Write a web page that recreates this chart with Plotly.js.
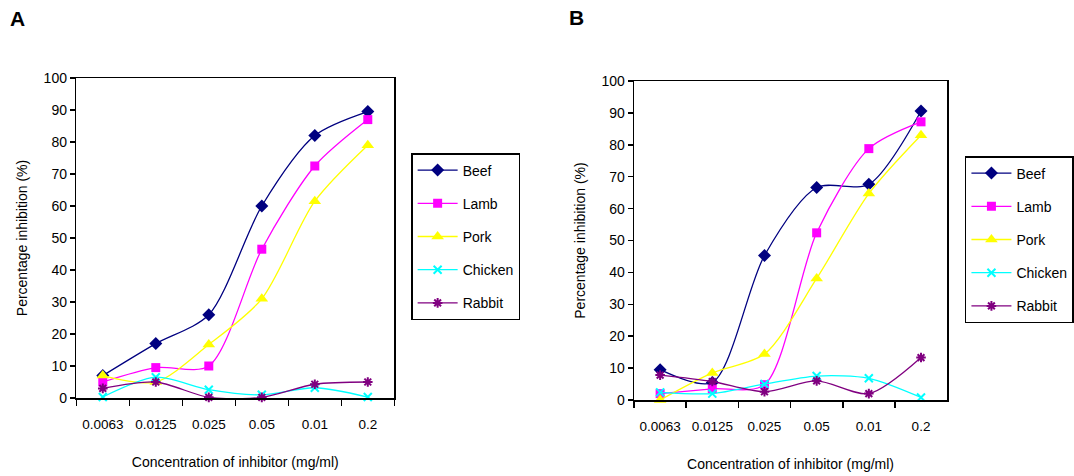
<!DOCTYPE html>
<html>
<head>
<meta charset="utf-8">
<script src="https://cdn.plot.ly/plotly-3.0.1.min.js"></script>
<style>
  html, body { margin: 0; padding: 0; background: #ffffff; }
  #chart { width: 1074px; height: 476px; }
</style>
</head>
<body>
<div id="chart"></div>
<script>
// Categories (x tick labels)
const concentrations = ["0.0063", "0.0125", "0.025", "0.05", "0.01", "0.2"];
const seriesNames = ["Beef", "Lamb", "Pork", "Chicken", "Rabbit"];

// Panel A values (% inhibition)
const beefA    = [7, 17, 26, 60, 82, 89.5];
const lambA    = [5, 9.5, 10, 46.5, 72.5, 87];
const porkA    = [7, 5, 16.7, 31, 61.5, 79];
const chickenA = [0.3, 6.5, 2.6, 1, 3.2, 0.3];
const rabbitA  = [3, 5, 0.2, 0.2, 4.3, 5];

// Panel B values (% inhibition)
const beefB    = [9.5, 5.5, 45.3, 66.6, 67.6, 90.6];
const lambB    = [2, 3.5, 4.8, 52.4, 78.8, 87.2];
const porkB    = [0, 8.5, 14.4, 38.1, 64.7, 83];
const chickenB = [2.4, 2, 5, 7.5, 6.8, 0.8];
const rabbitB  = [7.8, 5.8, 2.6, 6, 2, 13.3];

const styles = [
  { color: "#000080", symbol: "diamond", size: 10, open: false },
  { color: "#FF00FF", symbol: "square", size: 9, open: false },
  { color: "#FFFF00", symbol: "triangle-up", size: 11, open: false },
  { color: "#00FFFF", symbol: "x-thin-open", size: 8, open: true },
  { color: "#800080", symbol: "asterisk-open", size: 8, open: true }
];

function makeTraces(valuesList, xa, ya, legendId, suffix) {
  return valuesList.map((vals, i) => {
    const st = styles[i];
    return {
      type: "scatter",
      mode: "lines+markers",
      name: seriesNames[i],
      x: concentrations,
      y: vals,
      xaxis: xa,
      yaxis: ya,
      legend: legendId,
      legendgroup: seriesNames[i] + suffix,
      line: { color: st.color, width: 1.3, shape: "spline", smoothing: 0.8 },
      marker: {
        color: st.color,
        symbol: st.symbol,
        size: st.size,
        line: { color: st.color, width: st.open ? 2 : 0 }
      },
      cliponaxis: false
    };
  });
}

const traces = []
  .concat(makeTraces([beefA, lambA, porkA, chickenA, rabbitA], "x", "y", "legend", "A"))
  .concat(makeTraces([beefB, lambB, porkB, chickenB, rabbitB], "x2", "y2", "legend2", "B"));

const fontFam = "Liberation Sans, Arial, sans-serif";

function xAxis(domain, anchor) {
  return {
    domain: domain,
    anchor: anchor,
    type: "category",
    categoryorder: "array",
    categoryarray: concentrations,
    range: [-0.5, 5.5],
    tickson: "boundaries",
    tickangle: 0,
    ticks: "outside",
    ticklen: 6,
    tickwidth: 1.5,
    tickcolor: "#000",
    ticklabelstandoff: 13,
    showline: true,
    linecolor: "#000",
    linewidth: 1.5,
    mirror: true,
    showgrid: false,
    zeroline: false,
    tickfont: { family: fontFam, size: 13.5, color: "#000" },
    title: {
      text: "Concentration of inhibitor (mg/ml)",
      font: { family: fontFam, size: 14, color: "#000" },
      standoff: 26
    }
  };
}

function yAxis(domain, anchor) {
  return {
    domain: domain,
    anchor: anchor,
    range: [0, 100],
    dtick: 10,
    ticks: "outside",
    ticklen: 5,
    tickwidth: 1.5,
    tickcolor: "#000",
    showline: true,
    linecolor: "#000",
    linewidth: 1.5,
    mirror: true,
    showgrid: false,
    zeroline: false,
    tickfont: { family: fontFam, size: 14, color: "#000" },
    title: {
      text: "Percentage inhibition (%)",
      font: { family: fontFam, size: 14, color: "#000" },
      standoff: 12
    }
  };
}

function legendCfg(x, y) {
  return {
    x: x, y: y,
    xanchor: "left", yanchor: "top",
    xref: "paper", yref: "paper",
    bgcolor: "#ffffff",
    bordercolor: "#000",
    borderwidth: 1.5,
    font: { family: fontFam, size: 14, color: "#000" },
    tracegroupgap: 12,
    itemwidth: 40
  };
}

const layout = {
  width: 1074,
  height: 476,
  margin: { l: 0, r: 0, t: 0, b: 0 },
  paper_bgcolor: "#ffffff",
  plot_bgcolor: "#ffffff",
  showlegend: true,
  font: { family: fontFam, color: "#000" },
  xaxis: xAxis([77 / 1074, 398 / 1074], "y"),
  yaxis: yAxis([(476 - 398) / 476, (476 - 78) / 476], "x"),
  xaxis2: xAxis([640 / 1074, 956 / 1074], "y2"),
  yaxis2: yAxis([(476 - 400) / 476, (476 - 81) / 476], "x2"),
  legend: legendCfg(415 / 1074, (476 - 153) / 476),
  legend2: legendCfg(974 / 1074, (476 - 156) / 476),
  annotations: [
    { text: "<b>A</b>", x: 18 / 1074, y: (476 - 19) / 476, xref: "paper", yref: "paper",
      xanchor: "center", yanchor: "middle",
      showarrow: false, font: { family: fontFam, size: 21, color: "#000" } },
    { text: "<b>B</b>", x: 582 / 1074, y: (476 - 18) / 476, xref: "paper", yref: "paper",
      xanchor: "center", yanchor: "middle",
      showarrow: false, font: { family: fontFam, size: 21, color: "#000" } }
  ]
};

Plotly.newPlot("chart", traces, layout, { displayModeBar: false, staticPlot: true });
</script>
</body>
</html>
